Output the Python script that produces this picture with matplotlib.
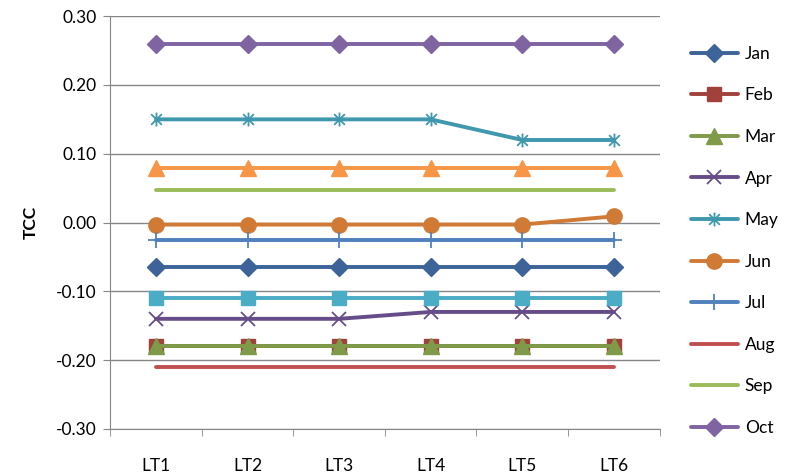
import matplotlib
matplotlib.use("Agg")
import matplotlib.pyplot as plt
from matplotlib.path import Path

plt.rcParams['font.family'] = ['Lato', 'DejaVu Sans']

categories = ["LT1", "LT2", "LT3", "LT4", "LT5", "LT6"]
series_names = ["Jan", "Feb", "Mar", "Apr", "May", "Jun", "Jul", "Aug", "Sep", "Oct", "Nov", "Dec"]
jan = [-0.065, -0.065, -0.065, -0.065, -0.065, -0.065]
feb = [-0.18, -0.18, -0.18, -0.18, -0.18, -0.18]
mar = [-0.18, -0.18, -0.18, -0.18, -0.18, -0.18]
apr = [-0.14, -0.14, -0.14, -0.13, -0.13, -0.13]
may = [0.15, 0.15, 0.15, 0.15, 0.12, 0.12]
jun = [-0.003, -0.003, -0.003, -0.003, -0.003, 0.009]
jul = [-0.025, -0.025, -0.025, -0.025, -0.025, -0.025]
aug = [-0.21, -0.21, -0.21, -0.21, -0.21, -0.21]
sep = [0.048, 0.048, 0.048, 0.048, 0.048, 0.048]
octo = [0.26, 0.26, 0.26, 0.26, 0.26, 0.26]
nov = [0.08, 0.08, 0.08, 0.08, 0.08, 0.08]
dec = [-0.11, -0.11, -0.11, -0.11, -0.11, -0.11]
values = [jan, feb, mar, apr, may, jun, jul, aug, sep, octo, nov, dec]
legend_names = series_names[:10]

colors = ["#3C6499", "#A0413C", "#7F9A48", "#664D8A", "#3F98AE", "#D07A35",
          "#4F81BD", "#C0504D", "#9BBB59", "#8064A2", "#F79646", "#4BACC6"]

star = Path([(-1, -1), (1, 1), (-1, 1), (1, -1), (0, -1.3), (0, 1.3)],
            [Path.MOVETO, Path.LINETO, Path.MOVETO, Path.LINETO, Path.MOVETO, Path.LINETO])
markers = ["D", "s", "^", "x", star, "o", "+", None, None, "D", "^", "s"]
msizes = [9, 10, 11, 10, 10, 11, 12, 0, 0, 9, 11, 10]
mews = [1, 1, 1, 1.3, 1.3, 1, 1.3, 1, 1, 1, 1, 1]

fig = plt.figure(figsize=(7.88, 4.76), dpi=100)
ax = fig.add_axes([0.14, 0.099, 0.697, 0.867])
x = list(range(len(categories)))
handles = []
for i, (name, vals) in enumerate(zip(series_names, values)):
    h, = ax.plot(x, vals, color=colors[i], lw=2.8, marker=markers[i], ms=msizes[i],
                 mec=colors[i], mfc=colors[i], mew=mews[i], zorder=3 + i,
                 solid_capstyle='round', clip_on=False)
    handles.append(h)

ax.set_xlim(-0.5, len(categories) - 0.5)
ax.set_ylim(-0.30, 0.30)
yt = [-0.3, -0.2, -0.1, 0.0, 0.1, 0.2, 0.3]
ax.set_yticks(yt)
ax.set_yticklabels([f"{v:.2f}" for v in yt])
ax.set_xticks(x)
ax.set_xticklabels(categories)
ax.set_xticks([i - 0.5 for i in range(len(categories) + 1)], minor=True)
ax.tick_params(axis='x', which='major', length=0, pad=21, labelsize=12.5)
ax.tick_params(axis='x', which='minor', length=5, color='#868686', direction='out')
ax.tick_params(axis='y', length=5, color='#868686', direction='out', labelsize=12.5, pad=5)
ax.yaxis.grid(True, color='#868686', lw=1)
ax.set_axisbelow(True)
for s in ['top', 'right']:
    ax.spines[s].set_visible(False)
ax.spines['left'].set_color('#868686')
ax.spines['bottom'].set_color('#868686')
ax.set_ylabel("TCC", fontsize=12.5, fontweight='bold', labelpad=12)

fig.legend(handles[:10], legend_names, loc='upper left', bbox_to_anchor=(0.868, 0.918),
           frameon=False, fontsize=12.5, handlelength=2.7, labelspacing=1.47,
           handletextpad=0.4, borderaxespad=0)

fig.savefig("out.png", dpi=100)
